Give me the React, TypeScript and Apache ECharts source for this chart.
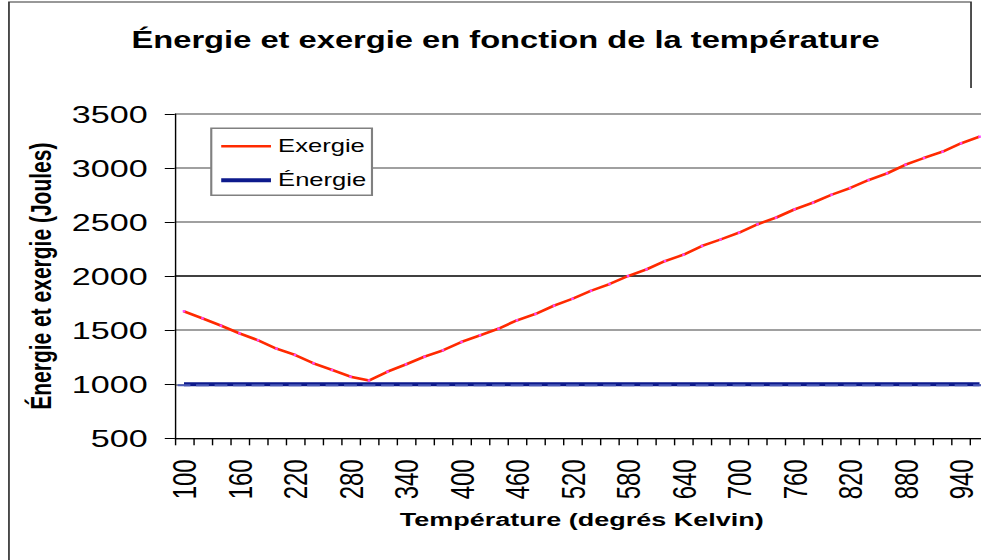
import React, { useEffect, useRef } from 'react';
import * as echarts from 'echarts';

// ---- data ----
const temperatures = [
  '100', '120', '140', '160', '180', '200', '220', '240', '260', '280',
  '300', '320', '340', '360', '380', '400', '420', '440', '460', '480',
  '500', '520', '540', '560', '580', '600', '620', '640', '660', '680',
  '700', '720', '740', '760', '780', '800', '820', '840', '860', '880',
  '900', '920', '940', '960',
];

const exergie = [
  1675, 1610, 1542, 1471, 1407, 1329, 1271, 1194, 1132, 1070,
  1035, 1116, 1184, 1255, 1314, 1391, 1453, 1514, 1592, 1650,
  1727, 1791, 1865, 1927, 2001, 2063, 2140, 2198, 2279, 2339,
  2402, 2480, 2541, 2618, 2680, 2753, 2815, 2889, 2951, 3031,
  3093, 3151, 3229, 3290,
];

const energie = [
  1000, 1000, 1000, 1000, 1000, 1000, 1000, 1000, 1000, 1000,
  1000, 1000, 1000, 1000, 1000, 1000, 1000, 1000, 1000, 1000,
  1000, 1000, 1000, 1000, 1000, 1000, 1000, 1000, 1000, 1000,
  1000, 1000, 1000, 1000, 1000, 1000, 1000, 1000, 1000, 1000,
  1000, 1000, 1000, 1000,
];

const yMin = 500;
const yMax = 3500;
const yInterval = 500;

const titleText = 'Énergie et exergie en fonction de la température';
const xName = 'Température (degrés Kelvin)';
const yName = 'Énergie et exergie (Joules)';
const seriesNames = ['Exergie', 'Énergie'];

// ---- layout ----
const SX = 1.4217; // horizontal stretch seen in the reference
const W = 690;
const H = 560;
const FONT = '"Liberation Sans", Arial, sans-serif';

const EXERGIE_COLOR = '#ff2a00';
const ENERGIE_COLOR = '#0d1a8c';

export default function App() {
  const ref = useRef<HTMLDivElement>(null);

  useEffect(() => {
    document.body.style.margin = '0';
    document.body.style.overflow = 'hidden';
    const chart = echarts.init(ref.current!, null, { renderer: 'svg', width: W, height: H });
    chart.setOption({
      animation: false,
      backgroundColor: '#ffffff',
      title: {
        text: titleText,
        left: 355.6,
        top: 28.5,
        textAlign: 'center',
        padding: 0,
        textStyle: { fontSize: 23, fontWeight: 'bold', color: '#000', fontFamily: FONT },
      },
      legend: {
        orient: 'vertical',
        left: 148.6,
        top: 128.3,
        padding: [9, 4, 6, 5],
        itemGap: 16,
        itemWidth: 35,
        itemHeight: 14,
        backgroundColor: '#ffffff',
        borderColor: '#808080',
        borderWidth: 1.5,
        borderRadius: 0,
        selectedMode: false,
        itemStyle: { opacity: 0 },
        data: [
          { name: seriesNames[0], lineStyle: { width: 2.5, color: EXERGIE_COLOR } },
          { name: seriesNames[1], lineStyle: { width: 4, color: ENERGIE_COLOR } },
        ],
        textStyle: { fontSize: 18, color: '#000', fontFamily: FONT },
      },
      grid: {
        left: 122.9,
        right: -5.5,
        top: 114,
        bottom: 121.7,
        containLabel: false,
        outerBoundsMode: 'none',
      },
      xAxis: {
        type: 'category',
        data: temperatures,
        boundaryGap: true,
        name: xName,
        nameLocation: 'middle',
        nameGap: 72,
        nameTextStyle: { fontSize: 19, fontWeight: 'bold', color: '#000', fontFamily: FONT },
        axisLine: { show: true, lineStyle: { color: '#000', width: 1 } },
        axisTick: { show: true, interval: 0, length: 7, lineStyle: { color: '#000', width: 1 } },
        axisLabel: {
          interval: 2,
          rotate: 90,
          margin: 21,
          fontSize: 24,
          color: '#000',
          fontFamily: FONT,
          padding: [0, 0, 5, 0],
        },
        splitLine: { show: false },
      },
      yAxis: {
        type: 'value',
        min: yMin,
        max: yMax,
        interval: yInterval,
        name: yName,
        nameLocation: 'middle',
        nameRotate: 90,
        nameGap: 84,
        nameTextStyle: { fontSize: 21, fontWeight: 'bold', color: '#000', fontFamily: FONT },
        axisLine: { show: true, lineStyle: { color: '#000', width: 1 } },
        axisTick: { show: true, length: 7, lineStyle: { color: '#000', width: 1 } },
        axisLabel: {
          fontSize: 24,
          margin: 19,
          color: '#000',
          fontFamily: FONT,
          formatter: (v: number) => String(v),
        },
        splitLine: {
          show: true,
          lineStyle: {
            color: ['#808080', '#808080', '#808080', '#000000', '#808080', '#808080', '#808080'],
            width: 1.5,
          },
        },
      },
      graphic: [
        {
          type: 'polyline',
          silent: true,
          shape: { points: [[683, 88], [683, 2], [6.3, 2], [6.3, 560]] },
          style: { stroke: '#333333', lineWidth: 1.2, fill: 'none' },
        },
      ],
      series: [
        {
          name: seriesNames[1],
          type: 'line',
          data: energie,
          z: 2,
          symbol: 'rect',
          symbolSize: [9, 2],
          symbolOffset: [0, 1],
          showAllSymbol: true,
          lineStyle: { color: ENERGIE_COLOR, width: 4 },
          itemStyle: { color: '#4a5ab8', borderWidth: 0 },
          emphasis: { disabled: true },
        },
        {
          name: seriesNames[0],
          type: 'line',
          data: exergie,
          z: 3,
          symbol: 'rect',
          symbolSize: [1.8, 2.4],
          showAllSymbol: true,
          lineStyle: { color: EXERGIE_COLOR, width: 2.5 },
          itemStyle: { color: '#ff44ff', borderWidth: 0 },
          emphasis: { disabled: true },
        },
      ],
    });
    return () => chart.dispose();
  }, []);

  return (
    <div
      style={{
        position: 'absolute',
        left: 0,
        top: 0,
        width: 981,
        height: 560,
        overflow: 'hidden',
        background: '#fff',
      }}
    >
      <div
        ref={ref}
        style={{ width: W, height: H, transform: `scaleX(${SX})`, transformOrigin: '0 0' }}
      />
    </div>
  );
}
